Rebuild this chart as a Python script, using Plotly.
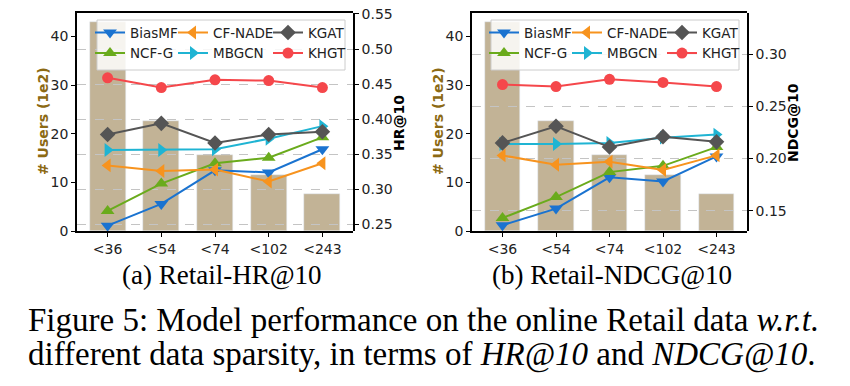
import plotly.graph_objects as go

categories = ["<36", "<54", "<74", "<102", "<243"]
users = [42.9, 22.6, 15.6, 11.6, 7.6]

models = ["BiasMF", "NCF-G", "CF-NADE", "MBGCN", "KGAT", "KHGT"]

hr_biasmf = [0.248, 0.279, 0.327, 0.324, 0.357]
hr_ncfg = [0.269, 0.308, 0.337, 0.345, 0.374]
hr_cfnade = [0.334, 0.326, 0.328, 0.311, 0.337]
hr_mbgcn = [0.356, 0.356, 0.357, 0.372, 0.390]
hr_kgat = [0.378, 0.394, 0.366, 0.378, 0.382]
hr_khgt = [0.459, 0.445, 0.456, 0.455, 0.445]

ndcg_biasmf = [0.136, 0.152, 0.182, 0.178, 0.202]
ndcg_ncfg = [0.143, 0.163, 0.187, 0.193, 0.211]
ndcg_cfnade = [0.203, 0.194, 0.197, 0.189, 0.203]
ndcg_mbgcn = [0.214, 0.214, 0.215, 0.220, 0.223]
ndcg_kgat = [0.215, 0.231, 0.211, 0.221, 0.216]
ndcg_khgt = [0.271, 0.269, 0.276, 0.273, 0.269]

hr = {"BiasMF": hr_biasmf, "NCF-G": hr_ncfg, "CF-NADE": hr_cfnade,
      "MBGCN": hr_mbgcn, "KGAT": hr_kgat, "KHGT": hr_khgt}
ndcg = {"BiasMF": ndcg_biasmf, "NCF-G": ndcg_ncfg, "CF-NADE": ndcg_cfnade,
        "MBGCN": ndcg_mbgcn, "KGAT": ndcg_kgat, "KHGT": ndcg_khgt}

colors = {"BiasMF": "#1a73d0", "NCF-G": "#6aab1c", "CF-NADE": "#f7931e",
          "MBGCN": "#1fb4d3", "KGAT": "#555555", "KHGT": "#f5474b"}
symbols = {"BiasMF": "triangle-down", "NCF-G": "triangle-up", "CF-NADE": "triangle-left",
           "MBGCN": "triangle-right", "KGAT": "diamond", "KHGT": "circle"}
sizes = {"BiasMF": 12, "NCF-G": 12, "CF-NADE": 12, "MBGCN": 12, "KGAT": 12, "KHGT": 11}
# legend column of each model (3-column, column-major layout)
column = {"BiasMF": 0, "NCF-G": 0, "CF-NADE": 1, "MBGCN": 1, "KGAT": 2, "KHGT": 2}

BAR_COLOR = "#c2b396"
W, H = 850, 386
FONT = "DejaVu Sans"
SERIF = "Liberation Serif"

fig = go.Figure()

fig.add_trace(go.Bar(x=categories, y=users, marker_color=BAR_COLOR, width=0.67,
                     showlegend=False, xaxis="x", yaxis="y"))
fig.add_trace(go.Bar(x=categories, y=users, marker_color=BAR_COLOR, width=0.67,
                     showlegend=False, xaxis="x3", yaxis="y3"))

legend_names = [["legend", "legend2", "legend3"], ["legend4", "legend5", "legend6"]]

for ci, (data, xa, ya) in enumerate([(hr, "x2", "y2"), (ndcg, "x4", "y4")]):
    for m in models:
        fig.add_trace(go.Scatter(x=categories, y=data[m], name=m, mode="lines+markers",
                                 line=dict(color=colors[m], width=2),
                                 marker=dict(symbol=symbols[m], size=sizes[m], color=colors[m]),
                                 xaxis=xa, yaxis=ya, legend=legend_names[ci][column[m]]))

ydom = [(H - 231) / H, (H - 13) / H]
xdom1 = [77 / W, 353 / W]
xdom2 = [472 / W, 747 / W]
xr = [-0.57, 4.57]

tickfont = dict(family=FONT, size=14, color="#222222")
common_x = dict(type="category", range=xr, ticks="outside", ticklen=4, tickcolor="black",
                showline=True, mirror=True, linecolor="black", linewidth=1.5,
                showgrid=False, tickfont=tickfont, fixedrange=True)
hidden_x = dict(type="category", range=xr, visible=False, showgrid=False, fixedrange=True)
left_y = dict(domain=ydom, range=[0, 44.85], tickvals=[0, 10, 20, 30, 40], ticks="outside",
              ticklen=4, tickcolor="black", showline=True, linecolor="black", linewidth=1.5,
              showgrid=False, zeroline=False, tickfont=tickfont)
right_y = dict(domain=ydom, side="right", dtick=0.05, tickformat=".2f", ticks="outside",
               ticklen=4, tickcolor="black", showline=True, linecolor="black", linewidth=1.5,
               showgrid=True, gridcolor="#c4c4c4", griddash="dash", gridwidth=1,
               zeroline=False, tickfont=tickfont)

layout = dict(
    width=W, height=H, margin=dict(l=0, r=0, t=0, b=0, autoexpand=False),
    paper_bgcolor="white", plot_bgcolor="rgba(0,0,0,0)",
    bargap=0,
    xaxis=dict(domain=xdom1, anchor="y", **common_x),
    yaxis=dict(anchor="x", **left_y),
    xaxis2=dict(domain=xdom1, anchor="y2", **hidden_x),
    yaxis2=dict(anchor="x2", range=[0.2404, 0.5514], **right_y),
    xaxis3=dict(domain=xdom2, anchor="y3", **common_x),
    yaxis3=dict(anchor="x3", **left_y),
    xaxis4=dict(domain=xdom2, anchor="y4", **hidden_x),
    yaxis4=dict(anchor="x4", range=[0.1305, 0.3396], **right_y),
)

box_left = [97, 491]
col_offset = [-7, 76, 171]
for ci in range(2):
    for k in range(3):
        layout[legend_names[ci][k]] = dict(
            x=(box_left[ci] + col_offset[k]) / W, y=(H - 17.2) / H,
            xanchor="left", yanchor="top", orientation="v",
            bgcolor="rgba(0,0,0,0)", borderwidth=0,
            font=dict(family=FONT, size=13.5, color="#222222"),
            itemwidth=30, tracegroupgap=0)
fig.update_layout(**layout)

for ci in range(2):
    fig.add_shape(type="rect", xref="paper", yref="paper", layer="above",
                  x0=box_left[ci] / W, x1=(box_left[ci] + 248) / W,
                  y0=(H - 70) / H, y1=(H - 20) / H,
                  fillcolor="rgba(255,255,255,0.85)", line=dict(color="#cccccc", width=1))

annos = [
    dict(text="<b># Users (1e2)</b>", x=43 / W, y=(H - 121) / H, textangle=-90,
         xanchor="center", font=dict(family=FONT, size=14, color="#8c6a14")),
    dict(text="<b>HR@10</b>", x=399 / W, y=(H - 123) / H, textangle=-90,
         xanchor="center", font=dict(family=FONT, size=14, color="black")),
    dict(text="<b># Users (1e2)</b>", x=438 / W, y=(H - 121) / H, textangle=-90,
         xanchor="center", font=dict(family=FONT, size=14, color="#8c6a14")),
    dict(text="<b>NDCG@10</b>", x=793 / W, y=(H - 123) / H, textangle=-90,
         xanchor="center", font=dict(family=FONT, size=14, color="black")),
    dict(text="(a) Retail-HR@10", x=222 / W, y=(H - 275) / H,
         xanchor="center", font=dict(family=SERIF, size=27, color="black")),
    dict(text="(b) Retail-NDCG@10", x=612 / W, y=(H - 275) / H,
         xanchor="center", font=dict(family=SERIF, size=27, color="black")),
    dict(text="Figure 5: Model performance on the online Retail data <i>w.r.t.</i>",
         x=26 / W, y=(H - 320) / H,
         xanchor="left", font=dict(family=SERIF, size=33, color="black")),
    dict(text="different data sparsity, in terms of <i>HR@10</i> and <i>NDCG@10</i>.",
         x=26 / W, y=(H - 354) / H,
         xanchor="left", font=dict(family=SERIF, size=33, color="black")),
]
for a in annos:
    fig.add_annotation(xref="paper", yref="paper", showarrow=False,
                       yanchor="middle", **a)

fig.write_html("out.html", post_script="document.body.style.margin='0px';",
               config={"displayModeBar": False})
